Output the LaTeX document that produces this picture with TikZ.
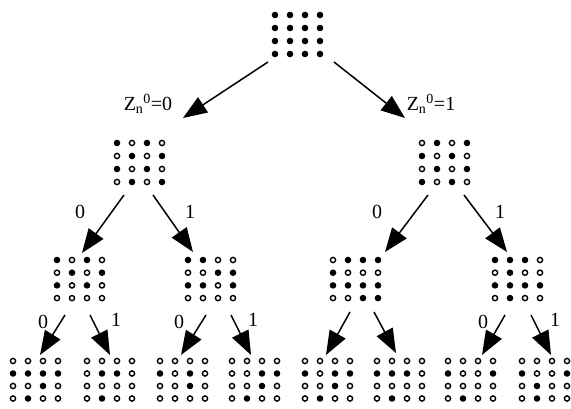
\documentclass[tikz,border=0pt]{standalone}
\usepackage{fontspec}
\setmainfont{Liberation Serif}
\usetikzlibrary{arrows.meta}
\tikzset{
  fulldot/.style={fill=black, draw=none},
  opendot/.style={draw=black, line width=1.4pt, fill=white},
  arr/.style={-{Triangle[length=24pt,width=18pt]}, line width=1.5pt},
  lbl/.style={font=\fontsize{20}{24}\selectfont, inner sep=0pt},
}
% #1 name, #2 x and #3 y of the top-left dot, #4 row pitch, #5 sixteen bits (1 = filled)
\newcommand\dotgrid[5]{%
  \coordinate (#1) at ({#2+22.5},{#3+1.5*#4});
  \foreach \v [count=\i from 0] in {#5} {
    \pgfmathtruncatemacro\rr{int(\i/4)}
    \pgfmathtruncatemacro\cc{mod(\i,4)}
    \ifnum\v=1
      \fill[fulldot] ({#2+15*\cc},{#3+#4*\rr}) circle (3.3pt);
    \else
      \draw[opendot] ({#2+15*\cc},{#3+#4*\rr}) circle (2.6pt);
    \fi
  }%
}
\begin{document}
\begin{tikzpicture}[x=1pt,y=-1pt]
\useasboundingbox (0,0) rectangle (571,409);

% root
\dotgrid{g}{275}{15}{13}{1,1,1,1, 1,1,1,1, 1,1,1,1, 1,1,1,1}

% first split
\dotgrid{g0}{117}{143}{13}{1,0,1,0, 0,1,0,1, 1,0,1,0, 0,1,0,1}
\dotgrid{g1}{422}{143}{13}{0,1,0,1, 1,0,1,0, 0,1,0,1, 1,0,1,0}

% second split
\dotgrid{g00}{57}{260}{12.7}{1,0,1,0, 0,1,0,1, 1,0,1,0, 0,0,0,0}
\dotgrid{g01}{188}{260}{12.7}{1,1,0,0, 0,0,1,1, 1,1,0,1, 0,0,0,0}
\dotgrid{g10}{333}{260}{12.7}{0,1,1,1, 1,0,0,0, 1,1,1,1, 0,0,1,1}
\dotgrid{g11}{495}{260}{12.7}{1,1,1,0, 0,1,0,0, 1,1,1,1, 0,1,0,0}

% leaves
\dotgrid{g000}{13}{361}{12.5}{0,0,0,0, 1,1,1,1, 0,0,1,0, 0,1,0,0}
\dotgrid{g001}{87}{361}{12.5}{0,0,0,0, 0,1,1,0, 0,0,0,0, 0,1,0,0}
\dotgrid{g010}{160}{361}{12.5}{0,0,0,0, 1,0,1,0, 0,0,1,0, 0,0,0,0}
\dotgrid{g011}{232}{361}{12.5}{0,0,0,0, 0,0,1,1, 0,0,1,0, 0,1,0,0}
\dotgrid{g100}{305}{361}{12.5}{0,0,0,0, 1,0,1,1, 0,0,1,0, 0,1,0,0}
\dotgrid{g101}{377}{361}{12.5}{0,0,0,0, 1,1,1,0, 0,0,0,0, 0,1,0,0}
\dotgrid{g110}{448}{361}{12.5}{0,0,0,0, 1,0,0,1, 0,0,0,0, 0,1,0,0}
\dotgrid{g111}{522}{361}{12.5}{0,0,0,0, 1,0,0,1, 0,1,0,0, 0,1,0,0}

% arrow end points
\coordinate (s0) at (268,62);   \coordinate (t0) at (183,118);
\coordinate (s1) at (334,62);   \coordinate (t1) at (405,118);
\coordinate (s00) at (124,195); \coordinate (t00) at (82,253);
\coordinate (s01) at (153,195); \coordinate (t01) at (193,252);
\coordinate (s10) at (428,195); \coordinate (t10) at (385,252);
\coordinate (s11) at (464,195); \coordinate (t11) at (507,252);
\coordinate (s000) at (65,315);  \coordinate (t000) at (40,355);
\coordinate (s001) at (90,315);  \coordinate (t001) at (110,355);
\coordinate (s010) at (206,315); \coordinate (t010) at (181,355);
\coordinate (s011) at (231,315); \coordinate (t011) at (251,355);
\coordinate (s100) at (350,312); \coordinate (t100) at (326,355);
\coordinate (s101) at (374,312); \coordinate (t101) at (396,353);
\coordinate (s110) at (505,315); \coordinate (t110) at (482,355);
\coordinate (s111) at (531,315); \coordinate (t111) at (551,355);

\foreach \k in {0,1,00,01,10,11,000,001,010,011,100,101,110,111}
  \draw[arr] (s\k) -- (t\k);

% branch labels
\node[lbl] (l0) at (148,104) {Z\textsubscript{n}\textsuperscript{0}=0};
\node[lbl] (l1) at (431,104) {Z\textsubscript{n}\textsuperscript{0}=1};
\node[lbl] (l00) at (80,212) {0};
\node[lbl] (l01) at (190,212) {1};
\node[lbl] (l10) at (377,212) {0};
\node[lbl] (l11) at (500,212) {1};
\node[lbl] (l000) at (43,322) {0};
\node[lbl] (l001) at (116,320) {1};
\node[lbl] (l010) at (179,322) {0};
\node[lbl] (l011) at (253,320) {1};
\node[lbl] (l110) at (483,322) {0};
\node[lbl] (l111) at (555,320) {1};
\end{tikzpicture}
\end{document}
